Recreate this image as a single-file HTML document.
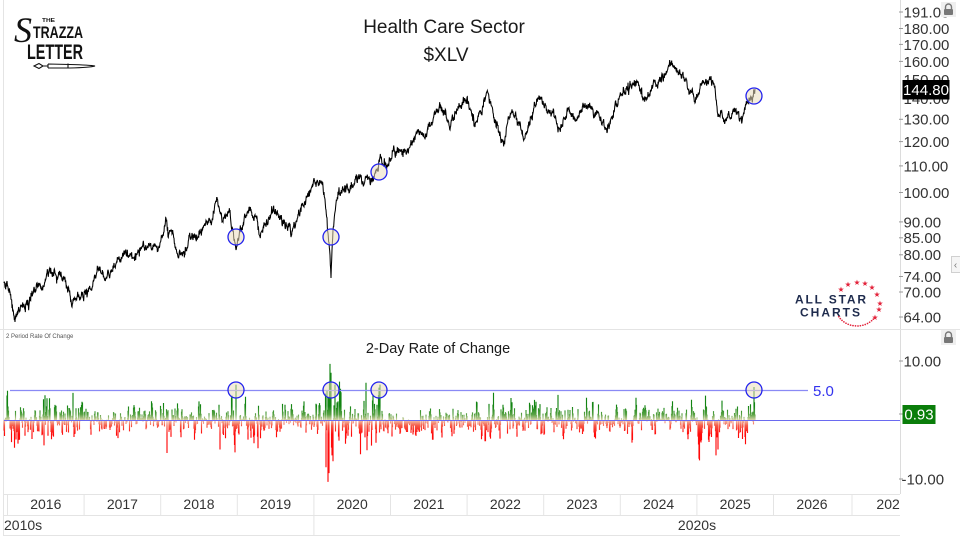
<!DOCTYPE html>
<html>
<head>
<meta charset="utf-8">
<style>
html,body{margin:0;padding:0;background:#fff;}
svg{display:block;}
</style>
</head>
<body>
<svg id="chart" width="960" height="540" viewBox="0 0 960 540" xmlns="http://www.w3.org/2000/svg" font-family="'Liberation Sans', sans-serif">
<defs>
  <linearGradient id="gG" gradientUnits="userSpaceOnUse" x1="0" y1="420" x2="0" y2="406">
    <stop offset="0" stop-color="#d8d4a8"/>
    <stop offset="0.4" stop-color="#58a244"/>
    <stop offset="1" stop-color="#128412"/>
  </linearGradient>
  <linearGradient id="gR" gradientUnits="userSpaceOnUse" x1="0" y1="420" x2="0" y2="434">
    <stop offset="0" stop-color="#f0c8b0"/>
    <stop offset="0.4" stop-color="#f65a48"/>
    <stop offset="1" stop-color="#ff0a0a"/>
  </linearGradient>
  <clipPath id="axClip"><rect x="4" y="494" width="896" height="46"/></clipPath>
</defs>
<rect width="960" height="540" fill="#fff"/>

<!-- frame -->
<line x1="3.5" y1="0" x2="3.5" y2="536" stroke="#e4e4e4"/>
<line x1="900.5" y1="0" x2="900.5" y2="494" stroke="#dcdcdc"/>
<line x1="0" y1="329.5" x2="960" y2="329.5" stroke="#e4e4e4"/>
<line x1="4" y1="494.5" x2="900" y2="494.5" stroke="#e4e4e4"/>
<line x1="4" y1="515.5" x2="900" y2="515.5" stroke="#e4e4e4"/>
<line x1="4" y1="535.5" x2="900" y2="535.5" stroke="#e4e4e4"/>

<!-- Strazza logo -->
<g fill="#111">
  <text x="14" y="42" font-family="'Liberation Serif', serif" font-style="italic" font-size="36">S</text>
  <text x="42" y="22" font-size="5" font-weight="bold" textLength="13" lengthAdjust="spacingAndGlyphs">THE</text>
  <text x="33" y="38" font-size="17" font-weight="bold" font-family="'Liberation Sans Narrow','Liberation Sans',sans-serif" textLength="50" lengthAdjust="spacingAndGlyphs">TRAZZA</text>
  <text x="27" y="59" font-size="21" font-weight="bold" font-family="'Liberation Sans Narrow','Liberation Sans',sans-serif" textLength="56" lengthAdjust="spacingAndGlyphs">LETTER</text>
</g>
<g fill="none" stroke="#111" stroke-width="1.1">
  <path d="M34 66 L39 63.5 L43 66 L39 68.5 Z"/>
  <path d="M43 66 L48 66 M48 64 L48 68 M48 64 L70 64.5 Q90 65 95 66 Q90 67.5 70 68 L48 68"/>
  <line x1="68" y1="63.5" x2="68" y2="68.5"/>
</g>

<!-- Titles -->
<text x="444" y="33" font-size="19" text-anchor="middle" fill="#1a1a1a">Health Care Sector</text>
<text x="446" y="61" font-size="19" text-anchor="middle" fill="#1a1a1a">$XLV</text>

<!-- Right axis (top) -->
<g font-size="15" fill="#333">
  <text x="903.5" y="17.3">191.00</text>
  <text x="903.5" y="33.9">180.00</text>
  <text x="903.5" y="49.8">170.00</text>
  <text x="903.5" y="66.8">160.00</text>
  <text x="903.5" y="84.8">150.00</text>
  <text x="903.5" y="104">140.00</text>
  <text x="903.5" y="124.7">130.00</text>
  <text x="903.5" y="147">120.00</text>
  <text x="903.5" y="171.3">110.00</text>
  <text x="903.5" y="197.9">100.00</text>
  <text x="903.5" y="227.3">90.00</text>
  <text x="903.5" y="243.2">85.00</text>
  <text x="903.5" y="260.2">80.00</text>
  <text x="903.5" y="281.9">74.00</text>
  <text x="903.5" y="297.4">70.00</text>
  <text x="903.5" y="322.4">64.00</text>
</g>
<g stroke="#999" stroke-width="1">
  <line x1="899" y1="12" x2="903" y2="12"/>
  <line x1="899" y1="28.5" x2="903" y2="28.5"/>
  <line x1="899" y1="44.4" x2="903" y2="44.4"/>
  <line x1="899" y1="61.4" x2="903" y2="61.4"/>
  <line x1="899" y1="119.3" x2="903" y2="119.3"/>
  <line x1="899" y1="141.6" x2="903" y2="141.6"/>
  <line x1="899" y1="165.9" x2="903" y2="165.9"/>
  <line x1="899" y1="192.5" x2="903" y2="192.5"/>
  <line x1="899" y1="221.9" x2="903" y2="221.9"/>
  <line x1="899" y1="237.8" x2="903" y2="237.8"/>
  <line x1="899" y1="254.8" x2="903" y2="254.8"/>
  <line x1="899" y1="276.5" x2="903" y2="276.5"/>
  <line x1="899" y1="292" x2="903" y2="292"/>
  <line x1="899" y1="317" x2="903" y2="317"/>
  <line x1="899" y1="361" x2="903" y2="361"/>
  <line x1="899" y1="479" x2="903" y2="479"/>
  <line x1="899" y1="414" x2="903" y2="414"/>
</g>
<rect x="902.5" y="80" width="47" height="19.5" fill="#000"/>
<text x="926" y="95.2" font-size="15" fill="#fff" text-anchor="middle">144.80</text>

<!-- lock icons -->
<g>
  <rect x="941" y="2" width="15" height="15" fill="#efefef"/>
  <path d="M945.5 9 V7 A3 3 0 0 1 951.5 7 V9" fill="none" stroke="#777" stroke-width="1.4"/>
  <rect x="944" y="9" width="9" height="6" rx="1" fill="#777"/>
  <rect x="941" y="330" width="15" height="15" fill="#efefef"/>
  <path d="M945.5 337 V335 A3 3 0 0 1 951.5 335 V337" fill="none" stroke="#777" stroke-width="1.4"/>
  <rect x="944" y="337" width="9" height="6" rx="1" fill="#777"/>
</g>
<!-- side tab -->
<rect x="951.5" y="256.5" width="9" height="16" fill="#f5f5f5" stroke="#d0d0d0"/>
<text x="955.5" y="268" font-size="10" fill="#777" text-anchor="middle">‹</text>

<!-- All Star Charts logo -->
<g fill="#1e2b4d" font-weight="bold">
  <text x="795" y="303.5" font-size="12" textLength="71" lengthAdjust="spacing">ALL STAR</text>
  <text x="800" y="316.5" font-size="12" textLength="60" lengthAdjust="spacing">CHARTS</text>
</g>
<g fill="#e3233b" font-family="'DejaVu Sans', sans-serif" font-size="7.5" text-anchor="middle">
  <text x="841" y="292">★</text>
  <text x="848" y="287">★</text>
  <text x="857" y="285">★</text>
  <text x="865" y="286">★</text>
  <text x="872" y="290">★</text>
  <text x="877" y="297">★</text>
  <text x="880" y="306">★</text>
  <text x="879" y="312">★</text>
  <text x="875" y="320">★</text>
</g>
<g id="dots" fill="#e3233b"></g>

<!-- Price line -->
<polyline id="price" fill="none" stroke="#000" stroke-width="1.05" stroke-linejoin="miter" points=""/>

<!-- top circles -->
<g fill="rgba(235,222,190,0.55)" stroke="#2222ee" stroke-width="1.3">
  <circle cx="236" cy="237" r="8"/>
  <circle cx="331" cy="237" r="8"/>
  <circle cx="379" cy="172" r="8"/>
  <circle cx="754" cy="96" r="8"/>
</g>

<!-- lower panel -->
<text x="6" y="338" font-size="6" fill="#555">2 Period Rate Of Change</text>
<text x="438" y="353" font-size="14.5" text-anchor="middle" fill="#1a1a1a">2-Day Rate of Change</text>

<path id="rocG" fill="none" stroke="url(#gG)" stroke-width="1.15" d=""/>
<path id="rocR" fill="none" stroke="url(#gR)" stroke-width="1.15" d=""/>

<line x1="10" y1="390.5" x2="808" y2="390.5" stroke="#8a8af5" stroke-width="1.2"/>
<line x1="4" y1="420.5" x2="900" y2="420.5" stroke="#6a6af0" stroke-width="1"/>
<text x="813" y="396" font-size="15" fill="#3333ee">5.0</text>

<g fill="rgba(235,222,190,0.55)" stroke="#2222ee" stroke-width="1.3">
  <circle cx="236" cy="390" r="8"/>
  <circle cx="331" cy="390" r="8"/>
  <circle cx="379" cy="390" r="8"/>
  <circle cx="754" cy="390" r="8"/>
</g>

<g font-size="15" fill="#333">
  <text x="903.5" y="366.3">10.00</text>
  <text x="901.5" y="484.3">-10.00</text>
</g>
<rect x="902.5" y="405" width="33" height="19" fill="#0a7d0a"/>
<text x="919" y="419.7" font-size="15" fill="#fff" text-anchor="middle">0.93</text>

<!-- bottom time axis -->
<g stroke="#e4e4e4">
  <line x1="7.5" y1="494" x2="7.5" y2="515"/>
  <line x1="84.1" y1="494" x2="84.1" y2="515"/>
  <line x1="160.7" y1="494" x2="160.7" y2="515"/>
  <line x1="237.3" y1="494" x2="237.3" y2="515"/>
  <line x1="313.9" y1="494" x2="313.9" y2="535"/>
  <line x1="390.5" y1="494" x2="390.5" y2="515"/>
  <line x1="467.1" y1="494" x2="467.1" y2="515"/>
  <line x1="543.7" y1="494" x2="543.7" y2="515"/>
  <line x1="620.3" y1="494" x2="620.3" y2="515"/>
  <line x1="696.9" y1="494" x2="696.9" y2="515"/>
  <line x1="773.5" y1="494" x2="773.5" y2="515"/>
  <line x1="852" y1="494" x2="852" y2="515"/>
</g>
<g font-size="14" fill="#333" text-anchor="middle" clip-path="url(#axClip)">
  <text x="45.8" y="509">2016</text>
  <text x="122.4" y="509">2017</text>
  <text x="199" y="509">2018</text>
  <text x="275.6" y="509">2019</text>
  <text x="352.2" y="509">2020</text>
  <text x="428.8" y="509">2021</text>
  <text x="505.4" y="509">2022</text>
  <text x="582" y="509">2023</text>
  <text x="658.6" y="509">2024</text>
  <text x="735.2" y="509">2025</text>
  <text x="812" y="509">2026</text>
  <text x="892" y="509">2027</text>
  <text x="697" y="530">2020s</text>
</g>
<text x="4" y="530" font-size="14" fill="#333">2010s</text>
</svg>

<script>
(function(){
function mulberry32(a){return function(){a|=0;a=a+0x6D2B79F5|0;var t=Math.imul(a^a>>>15,1|a);t=t+Math.imul(t^t>>>7,61|t)^t;return((t^t>>>14)>>>0)/4294967296;};}
var rnd=mulberry32(20251017);
function gauss(){var u=rnd();if(u<1e-9)u=1e-9;var v=rnd();return Math.sqrt(-2*Math.log(u))*Math.cos(2*Math.PI*v);}

var K=[[4,283],[7,281],[10,292],[13,310],[15,322],[18,313],[22,305],[27,300],[30,298],[35,290],[40,284],[45,282],[50,271],[54,270],[58,277],[62,280],[67,287],[70,295],[72,307],[76,300],[80,297],[84,295],[88,290],[93,282],[98,268],[102,274],[107,277],[111,272],[115,267],[120,260],[125,252],[129,256],[133,258],[138,250],[143,243],[148,248],[152,250],[156,246],[160,243],[163,235],[166,218],[168,237],[171,230],[173,233],[176,250],[178,257],[182,252],[187,247],[193,240],[200,233],[205,226],[210,220],[214,213],[218,205],[220,212],[223,222],[226,215],[230,210],[233,232],[236,250],[238,240],[240,230],[244,220],[248,213],[252,216],[257,217],[260,237],[263,228],[267,223],[270,215],[273,210],[278,214],[283,220],[289,224],[295,228],[297,220],[300,213],[303,205],[307,197],[311,189],[315,183],[319,185],[322,182],[324,192],[326,210],[328,233],[330,255],[331,278],[332,250],[333,230],[335,212],[337,200],[340,195],[343,190],[348,190],[353,187],[357,182],[360,177],[365,180],[370,183],[374,178],[378,170],[380,157],[383,165],[387,165],[390,158],[393,151],[397,152],[400,150],[403,157],[407,152],[410,147],[413,140],[417,133],[422,135],[427,133],[430,126],[433,120],[437,112],[440,107],[445,115],[450,130],[453,120],[457,110],[462,104],[467,97],[471,110],[475,127],[480,112],[485,100],[488,93],[490,103],[493,113],[498,125],[503,142],[507,125],[510,118],[513,112],[517,120],[521,130],[525,138],[529,122],[533,113],[536,105],[540,97],[545,103],[550,110],[555,118],[560,130],[564,118],[567,110],[572,115],[577,120],[582,112],[588,107],[593,110],[597,113],[602,125],[607,133],[610,122],[613,115],[618,104],[622,95],[627,87],[632,86],[637,83],[640,90],[643,100],[648,92],[653,85],[658,83],[663,80],[667,72],[672,65],[676,70],[680,73],[684,78],[687,83],[691,92],[695,103],[699,94],[703,83],[707,82],[710,80],[713,82],[715,87],[716,100],[718,117],[721,112],[725,122],[729,114],[733,110],[737,114],[740,118],[742,122],[745,110],[747,103],[750,101],[752,100],[754,92],[755,89]];

var pts=[];
for(var i=0;i<K.length-1;i++){
  var x0=K[i][0],y0=K[i][1],x1=K[i+1][0],y1=K[i+1][1];
  var n=Math.max(1,Math.round((x1-x0)*3));
  var w=[0];
  for(var j=1;j<=n;j++)w.push(w[j-1]+gauss()*1.9);
  for(var j=0;j<n;j++){
    var t=j/n;
    var y=y0+(y1-y0)*t+(w[j]-w[n]*t);
    if(j>0) y+=gauss()*1.4;
    pts.push((x0+(x1-x0)*t).toFixed(2)+','+y.toFixed(1));
  }
}
pts.push(K[K.length-1][0]+','+K[K.length-1][1]);
document.getElementById('price').setAttribute('points',pts.join(' '));

// ROC
function sig(x){
  var d=2016+(x-7.5)/76.6;
  if(d<2016.2)return 1.9; if(d<2016.9)return 1.45; if(d<2017.0)return 1.7;
  if(d<2018.0)return 1.05; if(d<2018.3)return 1.8; if(d<2018.75)return 1.2;
  if(d<2019.0)return 2.0; if(d<2019.4)return 1.6; if(d<2020.15)return 1.25;
  if(d<2020.35)return 4.2; if(d<2020.9)return 1.9; if(d<2022)return 1.35;
  if(d<2023)return 1.8; if(d<2024)return 1.3; if(d<2025)return 1.25;
  if(d<2025.5)return 2.0; return 1.5;
}
var xs=[],vs=[];var prev=0;
for(var x=4;x<=755.01;x+=0.5){
  var s=sig(x)/1.41;
  var r=gauss()*s;
  var v=r+prev; prev=r;
  if(v>6.5)v=6.5; if(v<-8)v=-8;
  xs.push(x); vs.push(v);
}
var spikes=[[44,-4.3],[45,4.2],[73,4.6],[167,-5.6],[220,-5],[235,-5.5],[236,6],[258,-4.8],[326,-8],[327,5],[328,-10.5],[329,-9],[330,9.5],[331,8],[332,-6],[333,-7],[335,6],[379,5.5],[380,6],[716,-6],[718,-5],[754,5.6],[754.5,3],[755,0.93]];
for(var k=0;k<spikes.length;k++){var idx=Math.round((spikes[k][0]-4)*2);if(idx>=0&&idx<vs.length)vs[idx]=spikes[k][1];}
var g='',rd='';
for(var i=0;i<xs.length;i++){
  var yy=420-vs[i]*5.9;
  if(vs[i]>=0) g+='M'+xs[i].toFixed(1)+' 420V'+yy.toFixed(1);
  else rd+='M'+xs[i].toFixed(1)+' 420V'+yy.toFixed(1);
}
document.getElementById('rocG').setAttribute('d',g);
document.getElementById('rocR').setAttribute('d',rd);

// dots of ASC logo
var dots=document.getElementById('dots');var ns='http://www.w3.org/2000/svg';
for(var a=42;a<=152;a+=6.5){
  var rad=a*Math.PI/180;
  var c=document.createElementNS(ns,'circle');
  c.setAttribute('cx',(857+22*Math.cos(rad)).toFixed(1));
  c.setAttribute('cy',(305+21*Math.sin(rad)).toFixed(1));
  c.setAttribute('r','0.85');
  dots.appendChild(c);
}
})();
</script>
</body>
</html>
